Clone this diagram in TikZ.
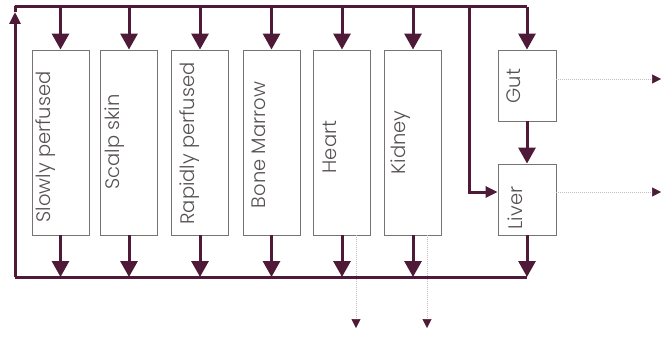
\documentclass[tikz,border=0pt]{standalone}
\usepackage{fontspec}
\newfontfamily\labfont{Poppins}[UprightFont=* Light]
\usetikzlibrary{arrows.meta}
\definecolor{maroon}{RGB}{78,26,56}
\definecolor{boxgray}{RGB}{120,115,115}
\definecolor{thin}{RGB}{200,185,192}
\definecolor{txt}{RGB}{85,80,82}
\tikzset{
  organ/.style={draw=boxgray, line width=0.9pt, minimum width=57pt, minimum height=185pt, inner sep=0pt},
  organsmall/.style={draw=boxgray, line width=0.9pt, minimum width=58pt, minimum height=71pt, inner sep=0pt},
  flow/.style={draw=maroon, line width=3pt},
  flowarrow/.style={flow, -{Triangle[length=16pt,width=17pt]}},
  smallflow/.style={flow, -{Triangle[length=12pt,width=11pt]}},
  outflow/.style={draw=thin, line width=1pt, densely dotted, -{Triangle[length=9pt,width=9pt,color=maroon,fill=maroon,line width=0.5pt]}},
  lab/.style={rotate=90, anchor=base, inner sep=0pt, text=txt, font=\labfont\fontsize{19.5}{22}\selectfont}
}
\begin{document}
\begin{tikzpicture}[x=1pt,y=-1pt]
\useasboundingbox (0,0) rectangle (661,337);
% boxes
\node[organ] (slow)   at (60.5,142.5) {};
\node[organ] (scalp)  at (129,142.5) {};
\node[organ] (rapid)  at (200,142.5) {};
\node[organ] (bone)   at (271.5,142.5) {};
\node[organ] (heart)  at (342,142.5) {};
\node[organ] (kidney) at (413,142.5) {};
\node[organsmall] (gut)   at (527,85.5) {};
\node[organsmall] (liver) at (527,199.5) {};
% labels
\node[lab] (lslow)   at (50,147)  {Slowly perfused};
\node[lab] (lscalp)  at (119,142) {Scalp skin};
\node[lab] (lrapid)  at (194,143.5) {Rapidly perfused};
\node[lab] (lbone)   at (265,145) {Bone Marrow};
\node[lab] (lheart)  at (336,147) {Heart};
\node[lab] (lkidney) at (405,142.5) {Kidney};
\node[lab] (lgut)    at (520,86)  {Gut};
\node[lab] (lliver)  at (522,208) {Liver};
% bus coordinates
\coordinate (topleft) at (15,7);
\coordinate (topright) at (527,7);
\coordinate (botleft) at (15,277);
\coordinate (botright) at (527,277);
\coordinate (uptip) at (15,12);
\coordinate (branch) at (469,7);
\coordinate (gutout) at (661,79);
\coordinate (liverout) at (661,192);
\coordinate (heartout) at (356,328);
\coordinate (kidneyout) at (427,328);
% thin outputs
\draw[outflow] (gut.east |- gutout) -- (gutout);
\draw[outflow] (liver.east |- liverout) -- (liverout);
\draw[outflow] (heartout |- heart.south) -- (heartout);
\draw[outflow] (kidneyout |- kidney.south) -- (kidneyout);
% buses
\draw[flow] (botleft) -- (botright);
\draw[flow, line join=round] (uptip) -- (topleft) -- (topright);
\draw[smallflow] (botleft) -- (uptip);
% arrows in
\foreach \b in {slow,scalp,rapid,bone,heart,kidney}{
  \draw[flowarrow] (\b.north |- topleft) -- (\b.north);
  \draw[flowarrow] (\b.south) -- (\b.south |- botleft);
}
\draw[flowarrow, rounded corners=2pt] (topright) -- (gut.north);
\draw[flowarrow] (gut.south) -- (liver.north);
\draw[flowarrow] (liver.south) -- (botright);
\draw[smallflow] (branch) -- (branch |- liverout) -- (liver.west |- liverout);
\end{tikzpicture}
\end{document}
